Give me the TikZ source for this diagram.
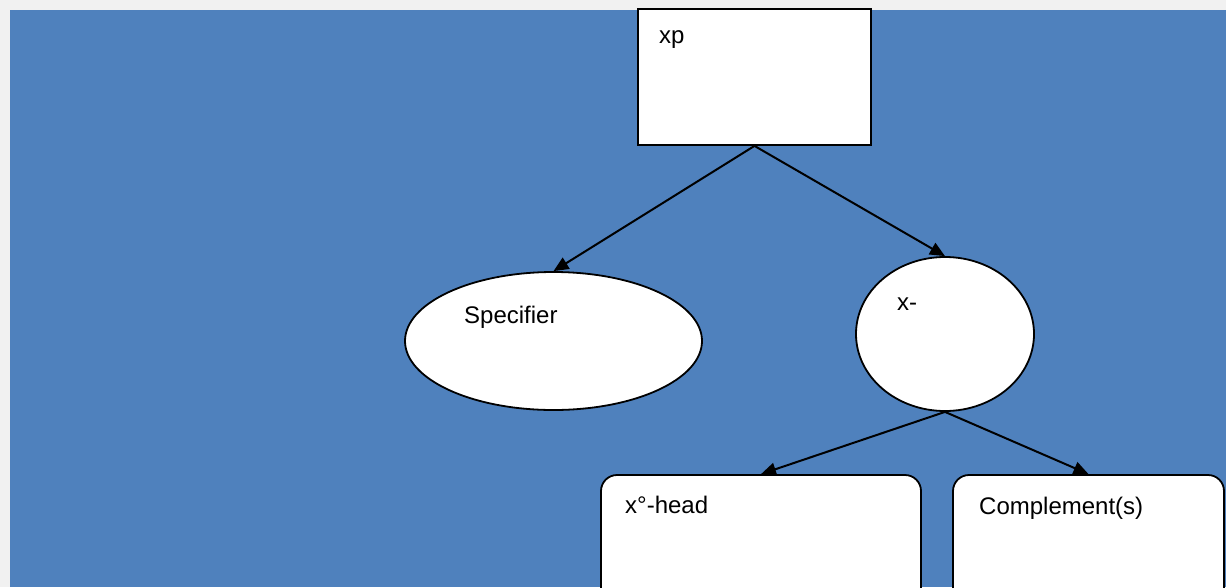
\documentclass[tikz,border=0pt]{standalone}
\usepackage{fontspec}
\setmainfont{Liberation Sans}
\usetikzlibrary{shapes.geometric,arrows.meta}
\definecolor{pagegray}{HTML}{F1F1F1}
\definecolor{officeblue}{HTML}{4F81BD}
\tikzset{
  box/.style={draw=black,fill=white,line width=1.8pt,inner sep=0pt},
  oval/.style={box,ellipse},
  txt/.style={anchor=base west,inner sep=0pt,font=\fontsize{24}{28}\selectfont},
  arr/.style={line width=2pt,-{Triangle[length=15pt,width=13pt]}}
}
\begin{document}
\begin{tikzpicture}[x=1pt,y=-1pt]
\useasboundingbox (0,0) rectangle (1226,587);
\clip (0,0) rectangle (1226,587);
\fill [pagegray] (0,0) rectangle (1226,587);
\fill [officeblue] (10,10) rectangle (1226,587);
% shapes
\node [box,minimum width=233pt,minimum height=136pt] (xp) at (754.5,77) {};
\node [oval,minimum width=297pt,minimum height=138pt] (spec) at (553.5,341) {};
\node [oval,minimum width=178pt,minimum height=154pt] (xbar) at (945,334) {};
\node [box,rounded corners=16pt,minimum width=320pt,minimum height=140pt] (head) at (761,545) {};
\node [box,rounded corners=16pt,minimum width=271pt,minimum height=140pt] (comp) at (1088.5,545) {};
% texts
\node [txt] (xptxt) at (659,43) {xp};
\node [txt] (spectxt) at (464,323) {Specifier};
\node [txt] (xbartxt) at (897,310) {x-};
\node [txt] (headtxt) at (625,513) {x°-head};
\node [txt] (comptxt) at (979,514) {Complement(s)};
% branches
\draw [arr] (xp.south) -- (spec.north);
\draw [arr] (xp.south) -- (xbar.north);
\draw [arr] (xbar.south) -- (head.north);
\draw [arr] (xbar.south) -- (comp.north);
\end{tikzpicture}
\end{document}
